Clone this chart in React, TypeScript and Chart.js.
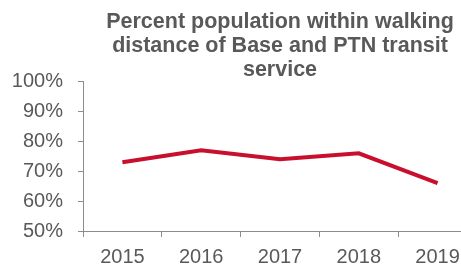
import React, { useEffect, useRef } from "react";
import { Chart, registerables } from "chart.js";

Chart.register(...registerables);

const years = ["2015", "2016", "2017", "2018", "2019"];
const percentValues = [73, 77, 74, 76, 66];
const titleLines = [
  "Percent population within walking",
  "distance of Base and PTN transit",
  "service",
];
const yMin = 50;
const yMax = 100;
const yStep = 10;

const FONT = "'Liberation Sans', Arial, sans-serif";
const TEXT_GRAY = "#595959";
const AXIS_GRAY = "#8c8c8c";
const LINE_RED = "#C8102E";

export default function App() {
  const ref = useRef<HTMLCanvasElement | null>(null);

  useEffect(() => {
    if (!ref.current) return;
    const chart = new Chart(ref.current, {
      type: "line",
      data: {
        labels: years,
        datasets: [
          {
            data: percentValues,
            borderColor: LINE_RED,
            borderWidth: 4,
            pointRadius: 0,
            tension: 0,
            fill: false,
          },
        ],
      },
      options: {
        responsive: false,
        animation: false,
        layout: { padding: { left: 12, right: 1, top: 0, bottom: 0 } },
        plugins: {
          legend: { display: false },
          tooltip: { enabled: false },
          title: {
            display: true,
            text: titleLines,
            fullSize: false,
            color: TEXT_GRAY,
            font: { family: FONT, size: 21.5, weight: "bold", lineHeight: 1.11 },
            padding: { top: 10, bottom: 0 },
          },
        },
        scales: {
          x: {
            type: "category",
            offset: true,
            grid: {
              offset: true,
              drawOnChartArea: false,
              drawTicks: true,
              tickLength: 6,
              color: AXIS_GRAY,
            },
            border: { color: AXIS_GRAY, width: 1 },
            ticks: {
              color: TEXT_GRAY,
              font: { family: FONT, size: 20, lineHeight: 1.0 },
              padding: 10,
              maxRotation: 0,
              autoSkip: false,
            },
            afterFit: (scale: any) => {
              scale.height = 36;
            },
          },
          y: {
            min: yMin,
            max: yMax,
            grid: {
              drawOnChartArea: false,
              drawTicks: true,
              tickLength: 5,
              color: AXIS_GRAY,
            },
            border: { color: AXIS_GRAY, width: 1 },
            ticks: {
              stepSize: yStep,
              color: TEXT_GRAY,
              font: { family: FONT, size: 20 },
              padding: 15,
              callback: (v: any) => `${v}%`,
            },
            afterFit: (scale: any) => {
              scale.width = 71;
            },
          },
        },
      },
    });
    return () => chart.destroy();
  }, []);

  return (
    <div
      style={{
        position: "fixed",
        left: 0,
        top: 0,
        width: 461,
        height: 267,
        overflow: "hidden",
        background: "#fff",
      }}
    >
      <canvas ref={ref} width={478} height={267} style={{ display: "block" }} />
    </div>
  );
}
